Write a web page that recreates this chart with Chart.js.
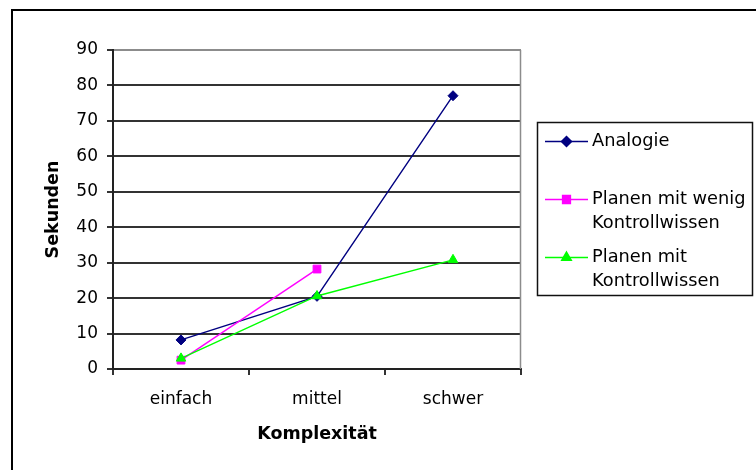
<!DOCTYPE html>
<html>
<head>
<meta charset="utf-8">
<script src="https://cdn.jsdelivr.net/npm/chart.js@4.4.0/dist/chart.umd.min.js"></script>
<style>
  html, body { margin: 0; padding: 0; background: #fff; }
  #wrap { position: relative; width: 756px; height: 470px; }
</style>
</head>
<body>
<div id="wrap"><canvas id="chart" width="756" height="470"></canvas></div>
<script>
// Werte
var kategorien = ["einfach", "mittel", "schwer"];
var analogie = [8.2, 20.5, 77.1];
var wenigKontrollwissen = [2.5, 28.2, null];
var mitKontrollwissen = [3.0, 20.6, 30.8];
var serienNamen = [
  ["Analogie"],
  ["Planen mit wenig", "Kontrollwissen"],
  ["Planen mit", "Kontrollwissen"]
];
var yMin = 0;
var yMax = 90;
var yStep = 10;

var schrift = "DejaVu Sans";
var gitterFarbe = "#333";

// Rahmen um das ganze Bild, grauer Rand rechts am Plot und Legende
var rahmenPlugin = {
  id: "rahmen",
  afterDraw: function (chart) {
    var ctx = chart.ctx;
    var area = chart.chartArea;
    ctx.save();

    ctx.strokeStyle = "#000";
    ctx.lineWidth = 2;
    ctx.strokeRect(12, 10, 900, 700);

    ctx.strokeStyle = "#8c8c8c";
    ctx.lineWidth = 1.5;
    ctx.beginPath();
    ctx.moveTo(Math.round(area.right) - 0.5, area.top);
    ctx.lineTo(Math.round(area.right) - 0.5, area.bottom);
    ctx.stroke();

    // Legende
    var box = { x: 537.5, y: 122.5, w: 215, h: 173 };
    ctx.fillStyle = "#fff";
    ctx.fillRect(box.x, box.y, box.w, box.h);
    ctx.strokeStyle = "#111";
    ctx.lineWidth = 1.5;
    ctx.strokeRect(box.x, box.y, box.w, box.h);

    var slot = 58;
    var zeile = 24.5;
    var startY = 141;
    ctx.font = "17.8px '" + schrift + "'";
    ctx.textBaseline = "middle";
    ctx.textAlign = "left";

    chart.data.datasets.forEach(function (ds, i) {
      var y = startY + i * slot;
      ctx.strokeStyle = ds.borderColor;
      ctx.lineWidth = 1.5;
      ctx.beginPath();
      ctx.moveTo(545, Math.round(y) + 0.5);
      ctx.lineTo(588, Math.round(y) + 0.5);
      ctx.stroke();

      ctx.fillStyle = ds.backgroundColor;
      ctx.strokeStyle = ds.borderColor;
      Chart.helpers.drawPoint(ctx, {
        pointStyle: ds.pointStyle,
        radius: ds.pointRadius,
        rotation: 0,
        borderWidth: 1
      }, 566.5, y + 0.5);

      ctx.fillStyle = "#000";
      serienNamen[i].forEach(function (t, j) {
        ctx.fillText(t, 592, y + j * zeile);
      });
    });

    ctx.restore();
  }
};

var chart = new Chart(document.getElementById("chart"), {
  type: "line",
  data: {
    labels: kategorien,
    datasets: [
      {
        label: serienNamen[0].join(" "),
        data: analogie,
        borderColor: "#000080",
        backgroundColor: "#000080",
        borderWidth: 1.4,
        pointStyle: "rectRot",
        pointRadius: 5,
        pointHoverRadius: 5,
        pointBorderWidth: 1,
        order: 2
      },
      {
        label: serienNamen[1].join(" "),
        data: wenigKontrollwissen,
        borderColor: "#ff00ff",
        backgroundColor: "#ff00ff",
        borderWidth: 1.4,
        pointStyle: "rect",
        pointRadius: 5.5,
        pointHoverRadius: 5.5,
        pointBorderWidth: 1,
        order: 1
      },
      {
        label: serienNamen[2].join(" "),
        data: mitKontrollwissen,
        borderColor: "#00ff00",
        backgroundColor: "#00ff00",
        borderWidth: 1.4,
        pointStyle: "triangle",
        pointRadius: 5.5,
        pointHoverRadius: 5.5,
        pointBorderWidth: 1,
        order: 0
      }
    ]
  },
  options: {
    responsive: false,
    animation: false,
    layout: {
      padding: { left: 43, top: 50, right: 235, bottom: 0 }
    },
    plugins: {
      legend: { display: false },
      tooltip: { enabled: false }
    },
    scales: {
      x: {
        offset: true,
        grid: {
          offset: true,
          drawOnChartArea: false,
          drawTicks: true,
          tickLength: 6,
          lineWidth: 2,
          color: gitterFarbe,
          tickColor: gitterFarbe
        },
        border: { color: "#222", width: 2 },
        ticks: {
          color: "#000",
          font: { family: schrift, size: 17 },
          padding: 14,
          maxRotation: 0,
          autoSkip: false
        },
        title: {
          display: true,
          text: "Komplexität",
          color: "#000",
          font: { family: schrift, size: 17.5, weight: "bold" },
          padding: { top: 0, bottom: 25 }
        },
        afterFit: function (scale) {
          scale.height = 101;
        }
      },
      y: {
        min: yMin,
        max: yMax,
        grid: {
          color: function (c) {
            return c.tick && c.tick.value === yMax ? "#8c8c8c" : gitterFarbe;
          },
          tickColor: gitterFarbe,
          tickLength: 6,
          lineWidth: 2
        },
        border: { color: "#222", width: 2 },
        ticks: {
          stepSize: yStep,
          color: "#000",
          font: { family: schrift, size: 17 },
          padding: 9
        },
        title: {
          display: true,
          text: "Sekunden",
          color: "#000",
          font: { family: schrift, size: 17.5, weight: "bold" },
          padding: { top: 0, bottom: 0 }
        },
        afterFit: function (scale) {
          scale.width = 70;
        }
      }
    }
  },
  plugins: [rahmenPlugin]
});
</script>
</body>
</html>
